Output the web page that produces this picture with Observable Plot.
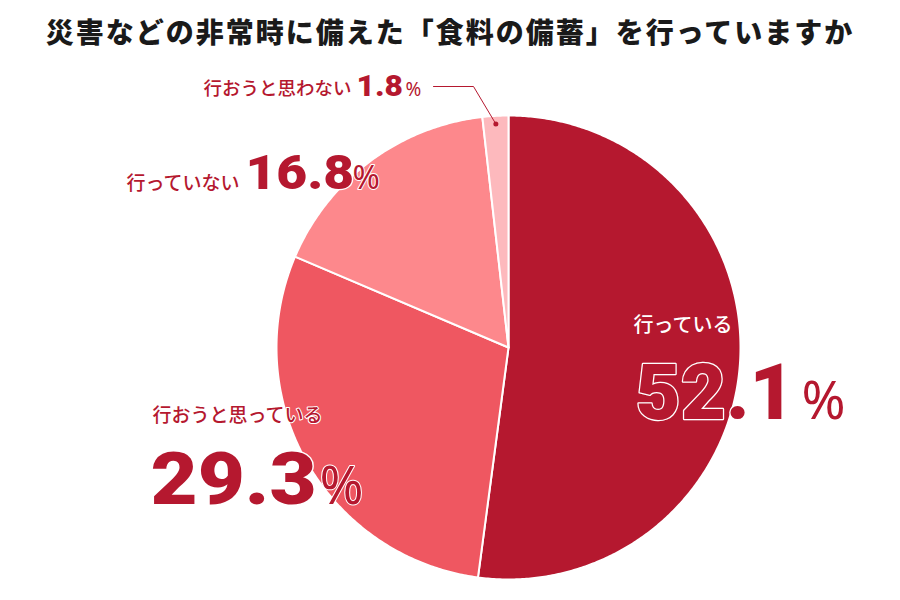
<!DOCTYPE html>
<html lang="ja">
<head>
<meta charset="utf-8">
<script src="https://cdn.jsdelivr.net/npm/d3@7"></script>
<script src="https://cdn.jsdelivr.net/npm/@observablehq/plot@0.6"></script>
<style>
  html, body { margin: 0; padding: 0; background: #fff; }
  #wrap { width: 900px; height: 600px; overflow: hidden; }
  #title {
    height: 65px; line-height: 62px; text-align: center;
    font-family: "Noto Sans CJK JP", sans-serif; font-weight: 900;
    font-size: 28px; letter-spacing: 2px; color: #1a1a1a;
  }
  svg { display: block; }
</style>
</head>
<body>
<div id="wrap">
  <div id="title">災害などの非常時に備えた「食料の備蓄」を行っていますか</div>
  <div id="chart"></div>
</div>
<script>
// ---- data ----
const categories = ["行っている", "行おうと思っている", "行っていない", "行おうと思わない"];
const shares = [52.1, 29.3, 16.8, 1.8];
const colors = ["#b5182f", "#ef5761", "#fd888c", "#fdb9bd"];

// ---- layout (page pixel coordinates, separate from data) ----
const W = 900, H = 535, TOP = 65;
const CX = 508, CY = 347, R = 232;
const X = px => (px - CX) / R;
const Y = py => (CY - py) / R;
const darkRed = "#b5182f";
const labelLayout = [
  {name: [633, 331, 20], num: [635, 418, 78], pct: [801, 418, 53], nameFill: "#fff", nameStroke: darkRed, widen: 1.0},
  {name: [152, 421, 19], num: [150, 503, 72], pct: [319, 503, 53], nameFill: darkRed, nameStroke: "#fff", widen: 1.13},
  {name: [126, 189, 19], num: [245, 188, 48], pct: [352, 188, 33], nameFill: darkRed, nameStroke: "#fff", widen: 1.11},
  {name: [203, 94, 18.5], num: [356, 95, 30], pct: [405, 95, 19], nameFill: darkRed, nameStroke: "#fff", widen: 1.06}
];
const leaderElbow = [[433, 86], [473, 86]];

// ---- slice geometry from data ----
const arcs = d3.pie().sort(null).value(d => d)(shares);
const slicePts = [];
arcs.forEach((a, i) => {
  const key = categories[i];
  slicePts.push({key, x: 0, y: 0});
  const n = Math.max(2, Math.ceil((a.endAngle - a.startAngle) / (Math.PI / 360)));
  for (let k = 0; k <= n; k++) {
    const t = a.startAngle + (a.endAngle - a.startAngle) * k / n;
    slicePts.push({key, x: Math.sin(t), y: Math.cos(t)});
  }
  slicePts.push({key, x: 0, y: 0});
});

// leader line to smallest slice
const small = arcs[3];
const mid = (small.startAngle + small.endAngle) / 2;
const dot = {x: 0.965 * Math.sin(mid), y: 0.965 * Math.cos(mid)};
const leader = [...leaderElbow.map(([px, py]) => ({x: X(px), y: Y(py)})), dot];

const fmt = d3.format(".1f");
const names = categories.map((c, i) => ({text: c, x: X(labelLayout[i].name[0]), y: Y(labelLayout[i].name[1]), size: labelLayout[i].name[2], fill: labelLayout[i].nameFill, stroke: labelLayout[i].nameStroke}));
const nums = shares.map((v, i) => ({text: fmt(v), x: X(labelLayout[i].num[0]), y: Y(labelLayout[i].num[1]), size: labelLayout[i].num[2], widen: labelLayout[i].widen}));
const pcts = shares.map((v, i) => ({text: "%", x: X(labelLayout[i].pct[0]), y: Y(labelLayout[i].pct[1]), size: labelLayout[i].pct[2]}));

const jp = "'Noto Sans CJK JP', sans-serif";
const numFont = "Roboto, 'Noto Sans', sans-serif";

const textMarks = [];
names.forEach(d => textMarks.push(Plot.text([d], {
  x: "x", y: "y", text: "text", textAnchor: "start", lineAnchor: "bottom",
  fontSize: d.size, fontFamily: jp, fontWeight: 500, fill: d.fill, stroke: d.stroke, strokeWidth: 2
})));
nums.forEach((d, i) => textMarks.push(Plot.text([d], {
  x: "x", y: "y", text: "text", textAnchor: "start", lineAnchor: "bottom",
  fontSize: d.size, fontFamily: numFont, fontWeight: 900, fill: darkRed, stroke: "#fff",
  strokeWidth: i === 3 ? 0 : 2.5
})));
pcts.forEach(d => textMarks.push(Plot.text([d], {
  x: "x", y: "y", text: "text", textAnchor: "start", lineAnchor: "bottom",
  fontSize: d.size, fontFamily: "'Noto Sans', sans-serif", fontWeight: 400, fill: darkRed, stroke: "#fff", strokeWidth: 2
})));

const chart = Plot.plot({
  width: W, height: H,
  margin: 0,
  x: {domain: [X(0), X(W)], axis: null},
  y: {domain: [Y(TOP + H), Y(TOP)], axis: null},
  color: {domain: categories, range: colors},
  marks: [
    Plot.line(slicePts, {x: "x", y: "y", z: "key", fill: "key", stroke: "#fff", strokeWidth: 2, strokeLinejoin: "round", curve: "linear"}),
    Plot.line(leader, {x: "x", y: "y", stroke: darkRed, strokeWidth: 1}),
    Plot.dot([dot], {x: "x", y: "y", r: 2.5, fill: darkRed}),
    ...textMarks
  ]
});
// widen the big numbers horizontally (the reference typeface is wider than Roboto)
const textGroups = chart.querySelectorAll('g[aria-label="text"]');
nums.forEach((d, i) => {
  const g = textGroups[categories.length + i];
  if (!g || d.widen === 1) return;
  g.querySelectorAll("text").forEach(t => {
    const tx = +(t.getAttribute("x") || 0), ty = +(t.getAttribute("y") || 0);
    const prev = t.getAttribute("transform") || "";
    t.setAttribute("transform", `${prev} translate(${tx},${ty}) scale(${d.widen},1) translate(${-tx},${-ty})`.trim());
  });
});
document.getElementById("chart").appendChild(chart);
</script>
</body>
</html>
